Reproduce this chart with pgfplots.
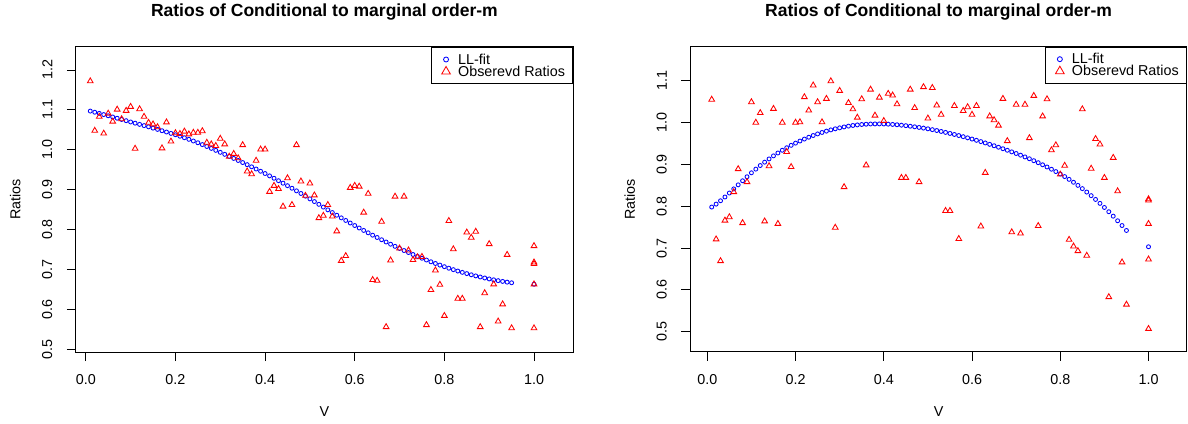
\documentclass[border=0pt]{standalone}
\usepackage{fontspec}
\setmainfont{Liberation Sans}
\usepackage{pgfplots}
\pgfplotsset{compat=1.18}

\pgfplotsset{
  rpanel/.style={
    scale only axis,
    height=305bp,
    axis line style={line width=1bp, black},
    tick align=outside,
    major tick length=9bp,
    tick style={line width=0.9bp, black},
    xtick pos=bottom, ytick pos=left,
    xtick={0,0.2,0.4,0.6,0.8,1.0},
    xticklabels={0.0,0.2,0.4,0.6,0.8,1.0},
    /pgf/number format/assume math mode=true,
    ticklabel style={font=\fontsize{14.4}{16}\selectfont},
    xticklabel style={yshift=-10bp},
    yticklabel style={xshift=-11bp, rotate=90, anchor=south},
    every axis title/.style={font=\bfseries\fontsize{17.6}{20}\selectfont,
      at={([yshift=34.5bp]axis description cs:0.5,1)}, anchor=center},
    every axis x label/.style={font=\fontsize{14.4}{16}\selectfont,
      at={([yshift=-60bp]axis description cs:0.5,0)}, anchor=center},
    every axis y label/.style={font=\fontsize{14.4}{16}\selectfont,
      at={([xshift=-60.5bp]axis description cs:0,0.5)}, rotate=90, anchor=center},
    xlabel={V}, ylabel={Ratios},
    title={Ratios of Conditional to marginal order-m},
    legend style={at={(rel axis cs:1,1)}, anchor=north east,
      draw=black, line width=1bp, fill=white,
      inner xsep=7.5bp, inner ysep=6bp,
      font=\fontsize{14.4}{14.4}\selectfont,
      row sep=0pt, column sep=5.4bp,
      cells={anchor=west},
      nodes={inner sep=0pt, text height=10.5bp, text depth=1.5bp}},
    legend image code/.code={%
      \path (0bp,0bp) (12.4bp,0bp);
      \draw[##1] plot[only marks] coordinates {(6.2bp,0bp)};},
  },
  fitmarks/.style={only marks, blue, mark=o, mark size=2bp,
    mark options={line width=0.85bp},
    legend image post style={mark size=2.5bp}},
  obsmarks/.style={only marks, red, mark=triangle, mark size=3.3bp,
    mark options={line width=0.85bp},
    legend image post style={mark size=5bp}},
}

\begin{document}
\begin{tikzpicture}
\path[use as bounding box] (0,0) rectangle (1188bp,424bp);

% ---------------- left panel ----------------
\begin{axis}[rpanel,
  at={(75.8bp,72bp)}, anchor=south west, width=497.2bp,
  xmin=-0.0223, xmax=1.087, ymin=0.4932, ymax=1.2576,
  ytick={0.5,0.6,0.7,0.8,0.9,1.0,1.1,1.2},
  yticklabels={0.5,0.6,0.7,0.8,0.9,1.0,1.1,1.2}]
\addplot[fitmarks] table {
x y
0.01 1.0970
0.02 1.0941
0.03 1.0912
0.04 1.0882
0.05 1.0852
0.06 1.0822
0.07 1.0791
0.08 1.0760
0.09 1.0729
0.10 1.0697
0.11 1.0667
0.12 1.0637
0.13 1.0606
0.14 1.0575
0.15 1.0543
0.16 1.0511
0.17 1.0478
0.18 1.0445
0.19 1.0411
0.20 1.0376
0.21 1.0340
0.22 1.0302
0.23 1.0262
0.24 1.0220
0.25 1.0176
0.26 1.0130
0.27 1.0083
0.28 1.0035
0.29 0.9986
0.30 0.9936
0.31 0.9886
0.32 0.9835
0.33 0.9784
0.34 0.9732
0.35 0.9680
0.36 0.9627
0.37 0.9573
0.38 0.9518
0.39 0.9462
0.40 0.9405
0.41 0.9346
0.42 0.9286
0.43 0.9225
0.44 0.9163
0.45 0.9100
0.46 0.9036
0.47 0.8971
0.48 0.8905
0.49 0.8838
0.50 0.8770
0.51 0.8702
0.52 0.8633
0.53 0.8564
0.54 0.8495
0.55 0.8427
0.56 0.8360
0.57 0.8294
0.58 0.8229
0.59 0.8165
0.60 0.8102
0.61 0.8040
0.62 0.7979
0.63 0.7919
0.64 0.7860
0.65 0.7802
0.66 0.7745
0.67 0.7689
0.68 0.7634
0.69 0.7580
0.70 0.7527
0.71 0.7475
0.72 0.7425
0.73 0.7376
0.74 0.7328
0.75 0.7282
0.76 0.7237
0.77 0.7193
0.78 0.7151
0.79 0.7110
0.80 0.7070
0.81 0.7032
0.82 0.6996
0.83 0.6961
0.84 0.6928
0.85 0.6897
0.86 0.6867
0.87 0.6839
0.88 0.6812
0.89 0.6787
0.90 0.6763
0.91 0.6741
0.92 0.6720
0.93 0.6701
0.94 0.6683
0.95 0.6667
1.00 0.6630
};
\addlegendentry{LL-fit}
\addplot[obsmarks] table {
x y
0.01 1.172
0.02 1.048
0.03 1.083
0.04 1.041
0.05 1.091
0.06 1.071
0.07 1.101
0.08 1.077
0.09 1.098
0.10 1.108
0.11 1.003
0.12 1.102
0.13 1.083
0.14 1.068
0.15 1.064
0.16 1.057
0.17 1.004
0.18 1.069
0.19 1.021
0.20 1.042
0.21 1.040
0.22 1.046
0.23 1.039
0.24 1.043
0.25 1.043
0.26 1.047
0.27 1.018
0.28 1.014
0.29 1.010
0.30 1.028
0.31 1.014
0.32 0.983
0.33 0.990
0.34 0.979
0.35 1.012
0.36 0.946
0.37 0.939
0.38 0.973
0.39 1.001
0.40 1.001
0.41 0.895
0.42 0.910
0.43 0.902
0.44 0.858
0.45 0.929
0.46 0.862
0.47 1.012
0.48 0.921
0.49 0.885
0.50 0.916
0.51 0.886
0.52 0.829
0.53 0.835
0.54 0.862
0.55 0.833
0.56 0.796
0.57 0.722
0.58 0.734
0.59 0.905
0.60 0.910
0.61 0.908
0.62 0.843
0.63 0.890
0.64 0.674
0.65 0.672
0.66 0.820
0.67 0.556
0.68 0.723
0.69 0.883
0.70 0.753
0.71 0.883
0.72 0.748
0.73 0.724
0.74 0.731
0.75 0.732
0.76 0.561
0.77 0.649
0.78 0.698
0.79 0.662
0.80 0.584
0.81 0.822
0.82 0.751
0.83 0.627
0.84 0.627
0.85 0.793
0.86 0.780
0.87 0.795
0.88 0.556
0.89 0.641
0.90 0.764
0.91 0.663
0.92 0.570
0.93 0.613
0.94 0.737
0.95 0.553
1.00 0.759
1.00 0.718
1.00 0.714
1.00 0.663
1.00 0.553
};
\addlegendentry{Obserevd Ratios}
\end{axis}

% ---------------- right panel ----------------
\begin{axis}[rpanel,
  at={(690.3bp,72.3bp)}, anchor=south west, width=496.5bp,
  xmin=-0.0385, xmax=1.0868, ymin=0.4522, ymax=1.1813,
  ytick={0.5,0.6,0.7,0.8,0.9,1.0,1.1},
  yticklabels={0.5,0.6,0.7,0.8,0.9,1.0,1.1}]
\addplot[fitmarks] table {
x y
0.01 0.7980
0.02 0.8050
0.03 0.8130
0.04 0.8220
0.05 0.8315
0.06 0.8413
0.07 0.8511
0.08 0.8608
0.09 0.8704
0.10 0.8798
0.11 0.8887
0.12 0.8972
0.13 0.9053
0.14 0.9130
0.15 0.9203
0.16 0.9272
0.17 0.9337
0.18 0.9398
0.19 0.9455
0.20 0.9508
0.21 0.9558
0.22 0.9605
0.23 0.9649
0.24 0.9690
0.25 0.9728
0.26 0.9763
0.27 0.9795
0.28 0.9824
0.29 0.9850
0.30 0.9873
0.31 0.9895
0.32 0.9914
0.33 0.9930
0.34 0.9943
0.35 0.9953
0.36 0.9960
0.37 0.9965
0.38 0.9967
0.39 0.9967
0.40 0.9965
0.41 0.9961
0.42 0.9955
0.43 0.9947
0.44 0.9937
0.45 0.9925
0.46 0.9912
0.47 0.9898
0.48 0.9883
0.49 0.9867
0.50 0.9850
0.51 0.9830
0.52 0.9809
0.53 0.9787
0.54 0.9764
0.55 0.9740
0.56 0.9715
0.57 0.9689
0.58 0.9662
0.59 0.9634
0.60 0.9605
0.61 0.9575
0.62 0.9544
0.63 0.9512
0.64 0.9479
0.65 0.9445
0.66 0.9410
0.67 0.9374
0.68 0.9337
0.69 0.9299
0.70 0.9260
0.71 0.9220
0.72 0.9178
0.73 0.9134
0.74 0.9088
0.75 0.9040
0.76 0.8990
0.77 0.8938
0.78 0.8884
0.79 0.8828
0.80 0.8770
0.81 0.8708
0.82 0.8642
0.83 0.8572
0.84 0.8498
0.85 0.8420
0.86 0.8338
0.87 0.8252
0.88 0.8162
0.89 0.8068
0.90 0.7970
0.91 0.7868
0.92 0.7762
0.93 0.7652
0.94 0.7538
0.95 0.7420
1.00 0.7030
};
\addlegendentry{LL-fit}
\addplot[obsmarks] table {
x y
0.01 1.055
0.02 0.721
0.03 0.669
0.04 0.766
0.05 0.774
0.06 0.834
0.07 0.889
0.08 0.760
0.09 0.858
0.10 1.049
0.11 1.000
0.12 1.023
0.13 0.764
0.14 0.896
0.15 1.033
0.16 0.758
0.17 1.000
0.18 0.930
0.19 0.894
0.20 1.000
0.21 1.001
0.22 1.061
0.23 1.029
0.24 1.089
0.25 1.049
0.26 1.001
0.27 1.057
0.28 1.099
0.29 0.749
0.30 1.076
0.31 0.846
0.32 1.047
0.33 1.032
0.34 1.012
0.35 1.056
0.36 0.898
0.37 1.079
0.38 1.017
0.39 1.060
0.40 1.004
0.41 1.069
0.42 1.065
0.43 1.044
0.44 0.868
0.45 0.868
0.46 1.079
0.47 1.035
0.48 0.858
0.49 1.085
0.50 1.010
0.51 1.083
0.52 1.041
0.53 1.019
0.54 0.789
0.55 0.789
0.56 1.040
0.57 0.722
0.58 1.028
0.59 1.037
0.60 1.019
0.61 1.040
0.62 0.752
0.63 0.880
0.64 1.015
0.65 1.006
0.66 0.993
0.67 1.057
0.68 0.956
0.69 0.738
0.70 1.043
0.71 0.735
0.72 1.043
0.73 0.963
0.74 1.064
0.75 0.753
0.76 1.015
0.77 1.056
0.78 0.934
0.79 0.946
0.80 0.876
0.81 0.897
0.82 0.720
0.83 0.704
0.84 0.693
0.85 1.032
0.86 0.682
0.87 0.890
0.88 0.961
0.89 0.948
0.90 0.868
0.91 0.583
0.92 0.916
0.93 0.836
0.94 0.666
0.95 0.565
1.00 0.817
1.00 0.814
1.00 0.758
1.00 0.673
1.00 0.507
};
\addlegendentry{Obserevd Ratios}
\end{axis}
\end{tikzpicture}
\end{document}
